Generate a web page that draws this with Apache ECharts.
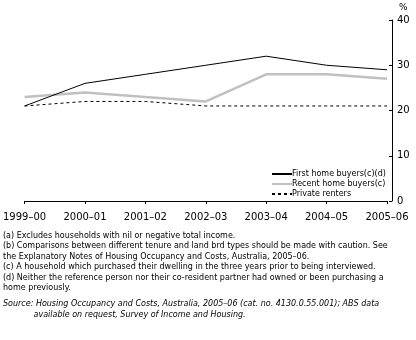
<!DOCTYPE html>
<html>
<head>
<meta charset="utf-8">
<script src="https://cdn.jsdelivr.net/npm/echarts@6/dist/echarts.min.js"></script>
<style>
html,body{margin:0;padding:0;background:#fff;}
#chart{width:416px;height:340px;}
</style>
</head>
<body>
<div id="chart"></div>
<script>
// Financial years on the horizontal axis
var years = ['1999–00', '2000–01', '2001–02', '2002–03', '2003–04', '2004–05', '2005–06'];
// Per cent of households, by tenure type
var firstHomeBuyers = [21, 26, 28, 30, 32, 30, 29];
var recentHomeBuyers = [23, 24, 23, 22, 28, 28, 27];
var privateRenters = [21, 22, 22, 21, 21, 21, 21];
var yTicks = [0, 10, 20, 30, 40];

var seriesNames = ['First home buyers(c)(d)', 'Recent home buyers(c)', 'Private renters'];

var footnotes = [
  '(a) Excludes households with nil or negative total income.',
  '(b) Comparisons between different tenure and land brd types should be made with caution. See',
  'the Explanatory Notes of Housing Occupancy and Costs, Australia, 2005–06.',
  '(c) A household which purchased their dwelling in the three years prior to being interviewed.',
  '(d) Neither the reference person nor their co-resident partner had owned or been purchasing a',
  'home previously.'
];
var sourceLines = [
  'Source: Housing Occupancy and Costs, Australia, 2005–06 (cat. no. 4130.0.55.001); ABS data',
  '            available on request, Survey of Income and Housing.'
];

var FONT = 'DejaVu Sans';
var chart = echarts.init(document.getElementById('chart'), null, {renderer: 'canvas'});

var graphics = [];
footnotes.forEach(function (t, i) {
  graphics.push({
    type: 'text', left: 3, top: 232 + i * 10.4,
    style: {text: t, font: '8px "' + FONT + '"', fill: '#000'}
  });
});
sourceLines.forEach(function (t, i) {
  graphics.push({
    type: 'text', left: 3, top: 300 + i * 11,
    style: {text: t, font: 'italic 8px "' + FONT + '"', fill: '#000'}
  });
});
graphics.push({
  type: 'text', left: 399, top: 3,
  style: {text: '%', font: '9px "' + FONT + '"', fill: '#000'}
});

chart.setOption({
  animation: false,
  backgroundColor: '#fff',
  grid: {left: 24, right: 29, top: 20, bottom: 139, containLabel: false},
  legend: {
    data: seriesNames,
    orient: 'vertical',
    left: 266, top: 165,
    padding: 5,
    itemWidth: 20, itemHeight: 8, itemGap: 2,
    itemStyle: {opacity: 0},
    textStyle: {fontFamily: FONT, fontSize: 8, color: '#000', padding: [0, 0, 0, -5]}
  },
  xAxis: {
    type: 'category',
    data: years,
    boundaryGap: false,
    offset: 6,
    axisLine: {lineStyle: {color: '#000', width: 1}},
    axisTick: {show: true, length: 3, lineStyle: {color: '#000'}},
    axisLabel: {fontFamily: FONT, fontSize: 10, color: '#000', margin: 5, interval: 0},
    splitLine: {show: false}
  },
  yAxis: {
    type: 'value',
    position: 'right',
    offset: 5,
    min: yTicks[0], max: yTicks[yTicks.length - 1], interval: 10,
    axisLine: {show: true, lineStyle: {color: '#000', width: 1}},
    axisTick: {show: true, inside: true, length: 3, lineStyle: {color: '#000'}},
    axisLabel: {fontFamily: FONT, fontSize: 10, color: '#000', margin: 5},
    splitLine: {show: false}
  },
  series: [
    {
      name: seriesNames[1], type: 'line', data: recentHomeBuyers,
      symbol: 'none', itemStyle: {color: '#c0c0c0'},
      lineStyle: {color: '#c0c0c0', width: 2.5}
    },
    {
      name: seriesNames[2], type: 'line', data: privateRenters,
      symbol: 'none', itemStyle: {color: '#000'},
      lineStyle: {color: '#000', width: 1, type: [3, 3]}
    },
    {
      name: seriesNames[0], type: 'line', data: firstHomeBuyers,
      symbol: 'none', itemStyle: {color: '#000'},
      lineStyle: {color: '#000', width: 1}
    }
  ],
  graphic: graphics
});
</script>
</body>
</html>
